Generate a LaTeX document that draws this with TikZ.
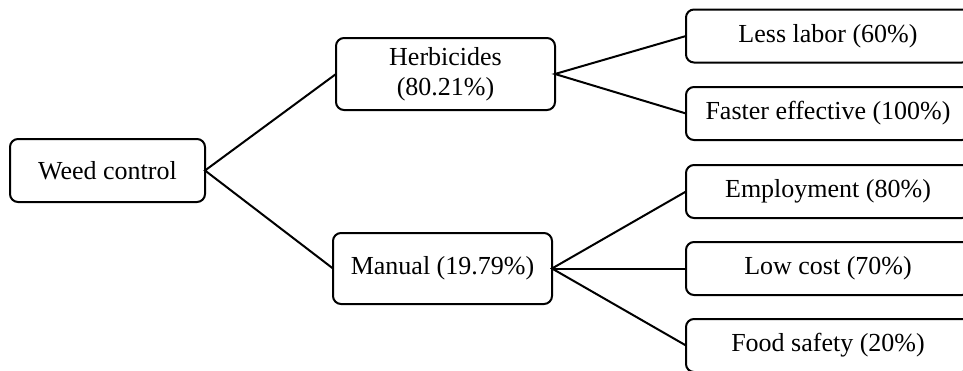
\documentclass[tikz,border=0pt]{standalone}
\usepackage{fontspec}
\setmainfont{Liberation Serif}
\begin{document}
\begin{tikzpicture}[x=0.5pt,y=-0.5pt,
  box/.style={draw=black, line width=1pt, rounded corners=4pt, inner sep=0pt, outer sep=0pt,
    font=\fontsize{13}{15}\selectfont, align=center},
  leaf/.style={box, minimum width=142pt, minimum height=26.5pt},
  link/.style={draw=black, line width=1pt}]
\useasboundingbox (0,0) rectangle (963,370);
\clip (0,0) rectangle (963,370);
\node[box, minimum width=97.5pt, minimum height=31.5pt] (weed) at (107.5,170.5) {Weed control};
\node[box, minimum width=109.5pt, minimum height=36pt] (herb) at (445.5,74) {Herbicides\\(80.21\%)};
\node[box, minimum width=109.5pt, minimum height=35.5pt] (man) at (442.5,268.5) {Manual (19.79\%)};
\node[leaf] (less) at (828,36) {Less labor (60\%)};
\node[leaf] (fast) at (828,113.5) {Faster effective (100\%)};
\node[leaf] (emp) at (828,191.5) {Employment (80\%)};
\node[leaf] (low) at (828,268.5) {Low cost (70\%)};
\node[leaf] (food) at (828,345.5) {Food safety (20\%)};
\draw[link] (herb.west) -- (weed.east) -- (man.west);
\draw[link] (less.west) -- (herb.east) -- (fast.west);
\draw[link] (emp.west) -- (man.east) -- (food.west);
\draw[link] (man.east) -- (low.west);
\end{tikzpicture}
\end{document}
